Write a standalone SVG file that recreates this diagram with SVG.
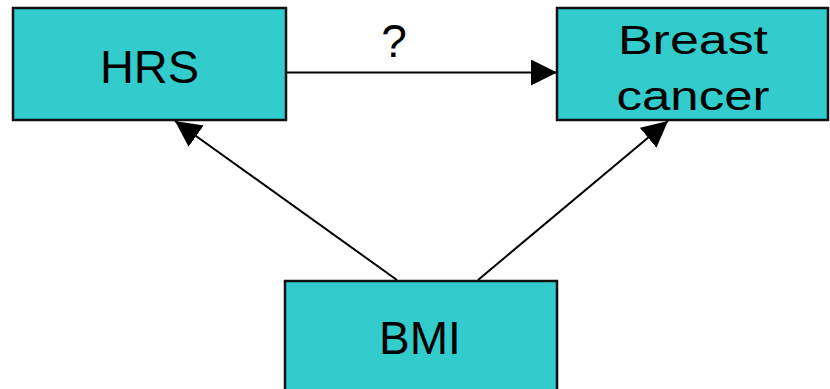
<svg xmlns="http://www.w3.org/2000/svg" width="830" height="389" viewBox="0 0 830 389">
  <style>
    .box { fill: #33cccc; stroke: #111; stroke-width: 2.5; }
    .lbl { font-family: "Liberation Sans", Arial, sans-serif; fill: #000; text-anchor: middle; }
    .edge { stroke: #000; stroke-width: 2; fill: none; marker-end: url(#head); }
  </style>
  <defs>
    <marker id="head" viewBox="0 0 26 26" refX="26" refY="13" markerWidth="26" markerHeight="26" markerUnits="userSpaceOnUse" orient="auto">
      <path d="M0,0 L26,13 L0,26 Z" fill="#000"/>
    </marker>
  </defs>
  <rect width="830" height="389" fill="#fff"/>

  <g id="edges">
    <line class="edge" x1="286" y1="72.5" x2="557" y2="72.5"/>
    <line class="edge" x1="397" y1="280" x2="175" y2="121"/>
    <line class="edge" x1="478" y1="280" x2="668" y2="121"/>
    <text class="lbl" x="394" y="57" font-size="46">?</text>
  </g>

  <g id="node-hrs">
    <rect class="box" x="13" y="8" width="273" height="112"/>
    <text class="lbl" x="149.5" y="83" font-size="47">HRS</text>
  </g>

  <g id="node-breast-cancer">
    <rect class="box" x="557" y="8" width="271" height="112"/>
    <text class="lbl" x="693" y="54" font-size="40" textLength="150" lengthAdjust="spacingAndGlyphs">Breast</text>
    <text class="lbl" x="693" y="110" font-size="40" textLength="153" lengthAdjust="spacingAndGlyphs">cancer</text>
  </g>

  <g id="node-bmi">
    <rect class="box" x="285" y="281" width="272" height="120"/>
    <text class="lbl" x="420" y="354" font-size="46">BMI</text>
  </g>
</svg>
